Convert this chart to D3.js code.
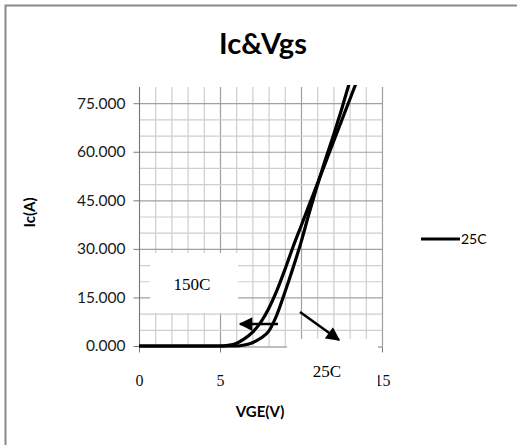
<!DOCTYPE html>
<html>
<head>
<meta charset="utf-8">
<script src="https://cdn.jsdelivr.net/npm/d3@7"></script>
<style>
  body { margin: 0; background: #fff; }
  svg { display: block; }
</style>
</head>
<body>
<svg id="chart" width="517" height="445"></svg>
<script>
// data
const vge150 = [0, 5, 5.5, 6, 6.5, 7, 7.5, 8, 8.5, 9, 9.5, 10, 10.5, 11, 11.5, 12, 12.5, 13, 13.5];
const ic150  = [0, 0, 0.2, 0.8, 2.2, 4.2, 7.2, 11.5, 17, 23.5, 30.5, 37, 43.5, 50, 56.5, 63, 69.5, 76, 82.5];
const vge25 = [0, 6, 6.5, 7, 7.5, 8, 8.5, 9, 9.5, 10, 10.5, 11, 11.5, 12, 12.5, 13, 13.3];
const ic25  = [0, 0, 0.3, 1, 2.4, 4.5, 9.5, 16.5, 24, 32, 41, 49.5, 57.5, 65, 73, 81.5, 86.5];
const yTicks = [0, 15, 30, 45, 60, 75];
const xTicks = [0, 5, 10, 15];
const seriesName = "25C";

const svg = d3.select("#chart");
const width = 517, height = 445;
const margin = {top: 87, right: 135, bottom: 99, left: 139};

let x = d3.scaleLinear()
  .domain([0, 15])
  .range([margin.left, width - margin.right]);

let y = d3.scaleLinear()
  .domain([0, 80])
  .range([height - margin.bottom, margin.top]);

// outer frame (runs off the right and bottom edge)
svg.append("rect")
  .attr("x", 5.5).attr("y", 5.5)
  .attr("width", 530).attr("height", 460)
  .attr("fill", "none")
  .attr("stroke", "#8a8a8a")
  .attr("stroke-width", 2);

// title
svg.append("text")
  .attr("x", 263).attr("y", 54)
  .attr("text-anchor", "middle")
  .attr("font-family", "Lato, sans-serif")
  .attr("font-weight", "bold")
  .attr("font-size", 29)
  .text("Ic&Vgs");

// grid: 1 V by 5 A, heavier every 5 V / 15 A
const grid = svg.append("g");
grid.selectAll(".vx")
  .data(d3.range(0, 16))
  .join("line")
  .attr("x1", d => x(d) + 0.5).attr("x2", d => x(d) + 0.5)
  .attr("y1", y(80)).attr("y2", y(0))
  .attr("stroke", d => d % 5 === 0 ? "#a0a0a0" : "#cecece")
  .attr("stroke-width", 1.2);
grid.selectAll(".hy")
  .data(d3.range(5, 80, 5))
  .join("line")
  .attr("x1", x(0)).attr("x2", x(15))
  .attr("y1", d => y(d) + 0.5).attr("y2", d => y(d) + 0.5)
  .attr("stroke", d => d % 15 === 0 ? "#a0a0a0" : "#cecece")
  .attr("stroke-width", 1.2);

// y axis
let yAxis = g => g
  .attr("transform", `translate(${x(0) + 0.5},0)`)
  .call(d3.axisLeft(y).tickValues(yTicks).tickFormat(d3.format(".3f")).tickSize(6).tickPadding(8).tickSizeOuter(0))
  .call(g => g.select(".domain").attr("d", `M0,${y(80)}V${y(0)}`).attr("stroke", "#7a7a7a"))
  .call(g => g.selectAll(".tick line").attr("stroke", "#7a7a7a"))
  .call(g => g.selectAll("text")
    .attr("font-family", "Lato, sans-serif")
    .attr("font-size", 15.5)
    .attr("fill", "#1a1a1a"));
svg.append("g").call(yAxis);

// x axis
let xAxis = g => g
  .attr("transform", `translate(0,${y(0) + 0.5})`)
  .call(d3.axisBottom(x).tickValues(xTicks).tickSize(6).tickPadding(22).tickSizeOuter(0))
  .call(g => g.select(".domain").attr("stroke", "#7a7a7a"))
  .call(g => g.selectAll(".tick line").attr("stroke", "#7a7a7a"))
  .call(g => g.selectAll("text")
    .attr("font-family", "'Liberation Serif', serif")
    .attr("font-size", 16)
    .attr("fill", "#111"));
svg.append("g").call(xAxis);

// curves
svg.append("clipPath").attr("id", "clip")
  .append("rect")
  .attr("x", x(0)).attr("y", y(80) - 2)
  .attr("width", x(15) - x(0)).attr("height", y(0) - y(80) + 6);

let line = d3.line()
  .curve(d3.curveMonotoneX)
  .x(d => x(d[0]))
  .y(d => y(d[1]));

const curves = [d3.zip(vge150, ic150), d3.zip(vge25, ic25)];
svg.append("g")
  .attr("clip-path", "url(#clip)")
  .selectAll("path")
  .data(curves)
  .join("path")
  .attr("fill", "none")
  .attr("stroke", "#000")
  .attr("stroke-width", 3.2)
  .attr("stroke-linejoin", "round")
  .attr("d", line);

// white label boxes pasted over the grid
svg.append("rect")
  .attr("x", 150).attr("y", 253)
  .attr("width", 88).attr("height", 60)
  .attr("fill", "#fff");
svg.append("text")
  .attr("x", 192).attr("y", 290)
  .attr("text-anchor", "middle")
  .attr("font-family", "'Liberation Serif', serif")
  .attr("font-size", 17)
  .text("150C");

svg.append("rect")
  .attr("x", 287).attr("y", 339)
  .attr("width", 91).attr("height", 55)
  .attr("fill", "#fff");
svg.append("text")
  .attr("x", 327).attr("y", 377)
  .attr("text-anchor", "middle")
  .attr("font-family", "'Liberation Serif', serif")
  .attr("font-size", 17)
  .text("25C");

// arrows
const defs = svg.append("defs");
defs.append("marker")
  .attr("id", "head")
  .attr("viewBox", "0 0 10 10")
  .attr("refX", 9).attr("refY", 5)
  .attr("markerWidth", 6).attr("markerHeight", 5.5)
  .attr("orient", "auto")
  .append("path")
  .attr("d", "M0,0L10,5L0,10Z")
  .attr("fill", "#000");

svg.append("line")
  .attr("x1", 278).attr("y1", 324)
  .attr("x2", 240).attr("y2", 324)
  .attr("stroke", "#000").attr("stroke-width", 2.5)
  .attr("marker-end", "url(#head)");
svg.append("line")
  .attr("x1", 300).attr("y1", 312)
  .attr("x2", 339).attr("y2", 340)
  .attr("stroke", "#000").attr("stroke-width", 2.5)
  .attr("marker-end", "url(#head)");

// axis titles
svg.append("text")
  .attr("transform", `translate(35,${(y(0) + y(80)) / 2 - 4}) rotate(-90)`)
  .attr("text-anchor", "middle")
  .attr("font-family", "Lato, sans-serif")
  .attr("font-weight", "bold")
  .attr("font-size", 15)
  .text("Ic(A)");
svg.append("text")
  .attr("x", 260).attr("y", 417)
  .attr("text-anchor", "middle")
  .attr("font-family", "Lato, sans-serif")
  .attr("font-weight", "bold")
  .attr("font-size", 15)
  .text("VGE(V)");

// legend
const legend = svg.append("g").attr("transform", "translate(421,239)");
legend.append("line")
  .attr("x1", 0).attr("x2", 39)
  .attr("stroke", "#000").attr("stroke-width", 3);
legend.append("text")
  .attr("x", 40).attr("y", 5)
  .attr("font-family", "Lato, sans-serif")
  .attr("font-size", 14)
  .text(seriesName);
</script>
</body>
</html>
